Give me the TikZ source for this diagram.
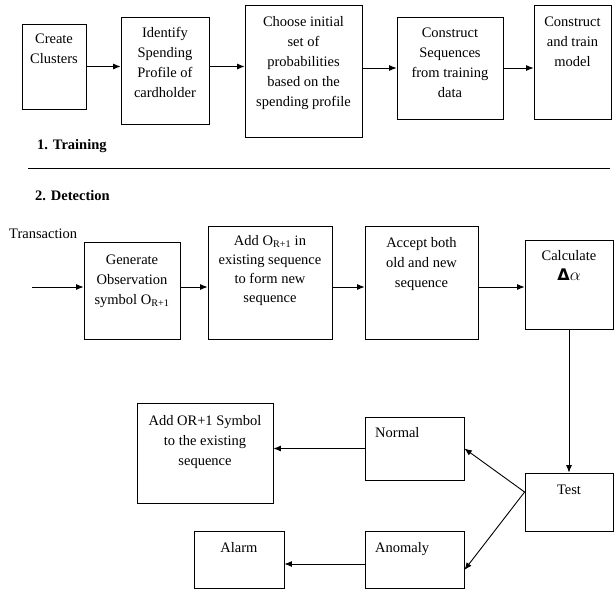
\documentclass[tikz,border=0pt]{standalone}
\usepackage{fontspec}
\setmainfont{Liberation Serif}
\newfontfamily\dvfont{DejaVu Sans}
\usetikzlibrary{arrows.meta}
\begin{document}
\begin{tikzpicture}[x=1pt,y=-1pt,
  box/.style={draw, line width=0.8pt, inner sep=0pt},
  txt/.style={anchor=north, align=center, inner sep=0pt, font=\fontsize{14.5}{20}\selectfont},
  ltxt/.style={anchor=north west, align=left, inner sep=0pt, font=\fontsize{14.5}{20}\selectfont},
  head/.style={anchor=west, inner sep=0pt, font=\fontsize{14.5}{20}\selectfont\bfseries},
  arr/.style={draw, line width=0.9pt, -{Latex[length=7.5pt,width=6pt]}}]
\useasboundingbox (0,0) rectangle (616,590);

% ---------- Training row ----------
\node[box, minimum width=64pt,  minimum height=85pt]  (cc) at (54,66.5) {};
\node[box, minimum width=88pt,  minimum height=107pt] (id) at (165,70.5) {};
\node[box, minimum width=117pt, minimum height=132pt] (ch) at (303.5,71) {};
\node[box, minimum width=106pt, minimum height=102pt] (cs) at (450,68) {};
\node[box, minimum width=77pt,  minimum height=114pt] (tr) at (572.5,62) {};

\node[txt] (tcc) at (54,33.5) {Create\\Clusters};
\node[txt] (tid) at (165,27.5) {Identify\\Spending\\Profile of\\cardholder};
\node[txt] (tch) at (303.5,16.5) {Choose initial\\set of\\probabilities\\based on the\\spending profile};
\node[txt] (tcs) at (450,27.5) {Construct\\Sequences\\from training\\data};
\node[txt] (ttr) at (572.5,16.5) {Construct\\and train\\model};

\draw[arr] (cc.east) -- (cc.east -| id.west);
\draw[arr] (id.east |- cc.east) -- (ch.west |- cc.east);
\draw[arr] (cs.west -| ch.east) -- (cs.west);
\draw[arr] (cs.east) -- (cs.east -| tr.west);

\node[head] (h1) at (37,146) {1. Training};
\coordinate (sl) at (28,168);
\coordinate (sr) at (610,168);
\draw[line width=0.8pt] (sl) -- (sr);
\node[head] (h2) at (35,196) {2. Detection};

% ---------- Detection row ----------
\node[anchor=west, inner sep=0pt, font=\fontsize{14.5}{20}\selectfont] (trans) at (9,234) {Transaction};
\coordinate (tin) at (32,287);

\node[box, minimum width=96pt,  minimum height=97pt]  (gen) at (132,290.5) {};
\node[box, minimum width=124pt, minimum height=113pt] (add) at (270,282.5) {};
\node[box, minimum width=113pt, minimum height=113pt] (acc) at (421.5,282.5) {};
\node[box, minimum width=88pt,  minimum height=89pt]  (cal) at (569,284.5) {};

\node[txt] (tgen) at (132,254.5) {Generate\\Observation\\symbol O\textsubscript{R+1}};
\node[txt, font=\fontsize{14.5}{19}\selectfont] (tadd) at (270,235.5) {Add O\textsubscript{R+1} in\\existing sequence\\to form new\\sequence};
\node[txt] (tacc) at (421.5,237.5) {Accept both\\old and new\\sequence};
\node[txt] (tcal) at (569,250.5) {Calculate\\{\fontsize{16}{20}\selectfont{\dvfont\bfseries Δ}$\alpha$}};

\draw[arr] (tin) -- (tin -| gen.west);
\draw[arr] (gen.east |- tin) -- (add.west |- tin);
\draw[arr] (add.east |- tin) -- (acc.west |- tin);
\draw[arr] (acc.east |- tin) -- (cal.west |- tin);

% ---------- Decision ----------
\node[box, minimum width=88pt,  minimum height=58pt]  (tst) at (569,502) {};
\node[box, minimum width=99pt,  minimum height=63pt]  (nor) at (414.5,448.5) {};
\node[box, minimum width=136pt, minimum height=100pt] (asy) at (205,453) {};
\node[box, minimum width=99pt,  minimum height=57pt]  (ano) at (414.5,559.5) {};
\node[box, minimum width=90pt,  minimum height=57pt]  (alm) at (239,559.5) {};

\node[txt] (ttst) at (569,484.5) {Test};
\node[ltxt] (tnor) at (375,427.5) {Normal};
\node[txt] (tasy) at (205,415.5) {Add OR+1 Symbol\\to the existing\\sequence};
\node[ltxt] (tano) at (375,542.5) {Anomaly};
\node[txt] (talm) at (239,542.5) {Alarm};

\draw[arr] (cal.south) -- (tst.north);
\draw[arr] ([yshift=10pt]tst.west) -- (nor.east);
\draw[arr] ([yshift=10pt]tst.west) -- ([yshift=-10.5pt]ano.east);
\draw[arr] (nor.west) -- (nor.west -| asy.east);
\draw[arr] ([yshift=-4.5pt]ano.west) -- ([yshift=-4.5pt]ano.west -| alm.east);
\end{tikzpicture}
\end{document}
